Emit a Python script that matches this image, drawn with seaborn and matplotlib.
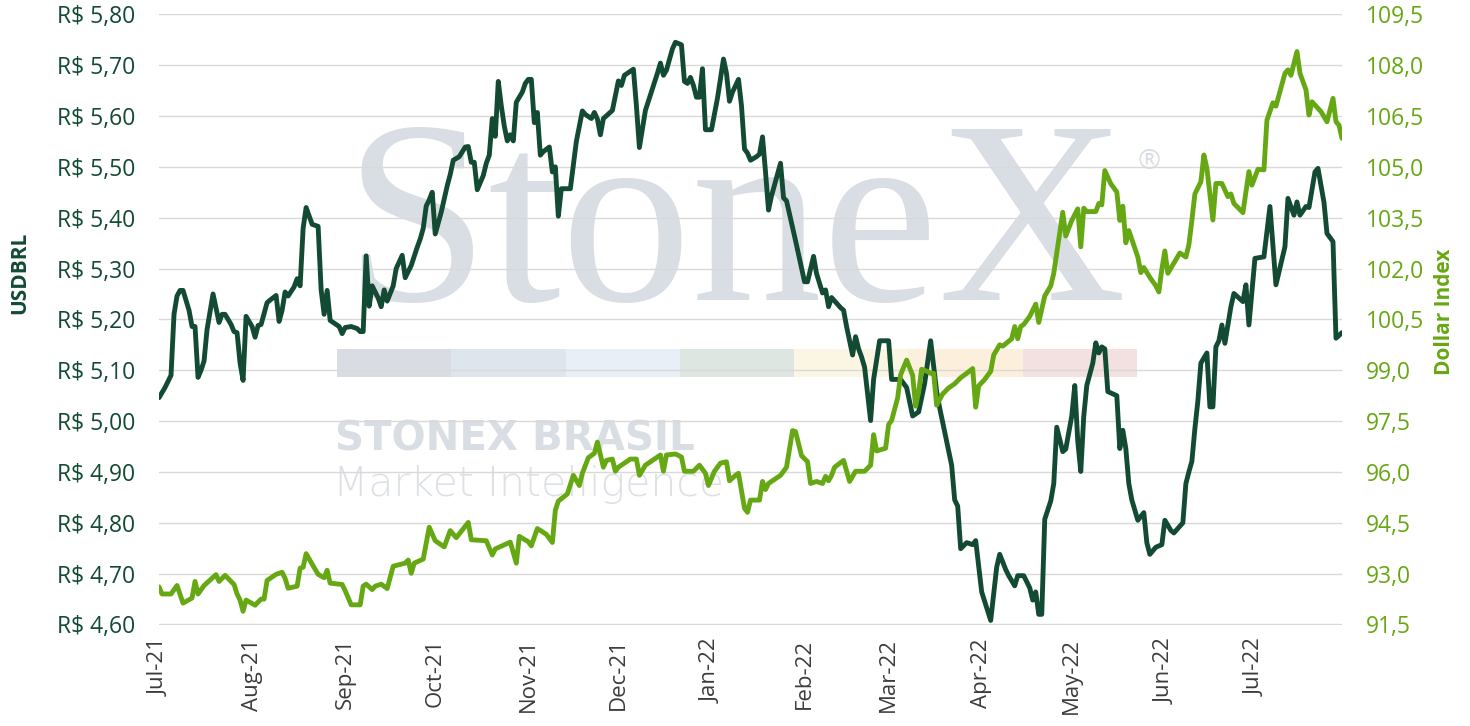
import pandas as pd
import matplotlib
matplotlib.use("Agg")
import matplotlib.pyplot as plt
import matplotlib.dates as mdates
from matplotlib.ticker import FuncFormatter, MultipleLocator
from matplotlib.patches import Rectangle
import seaborn as sns

# day offsets from 2021-07-01 and closing values
start = "2021-07-01"

usd_days = [0, 2, 4, 5, 6, 7, 8, 10, 11, 12,
            13, 14, 15, 16, 18, 20, 21, 22, 24, 25,
            26, 27, 28, 29, 31, 32, 33, 34, 36, 37,
            39, 40, 41, 42, 43, 45, 46, 47, 48, 49,
            51, 53, 54, 55, 56, 57, 58, 60, 61, 62,
            64, 66, 67, 68, 69, 70, 71, 73, 74, 75,
            76, 78, 79, 81, 82, 84, 86, 87, 88, 89,
            90, 91, 92, 94, 96, 97, 98, 100, 102, 103,
            104, 105, 106, 108, 109, 110, 111, 112, 113, 114,
            115, 116, 117, 118, 119, 121, 122, 123, 124, 125,
            126, 127, 128, 130, 131, 132, 133, 134, 137, 138,
            139, 141, 142, 144, 145, 146, 147, 148, 151, 153,
            154, 155, 158, 159, 160, 162, 166, 167, 168, 169,
            171, 172, 174, 175, 176, 177, 178, 179, 180, 181,
            182, 184, 186, 188, 189, 190, 191, 193, 194, 195,
            196, 197, 199, 200, 201, 202, 203, 204, 207, 208,
            209, 212, 215, 216, 218, 219, 221, 222, 223, 224,
            227, 228, 229, 231, 232, 233, 234, 235, 237, 238,
            240, 243, 244, 247, 249, 251, 253, 255, 257, 259,
            260, 262, 264, 265, 266, 267, 269, 271, 272, 274,
            277, 279, 280, 282, 283, 285, 286, 288, 290, 291,
            292, 293, 294, 295, 297, 298, 299, 301, 302, 304,
            305, 306, 307, 308, 309, 311, 312, 313, 314, 315,
            316, 319, 320, 321, 322, 323, 324, 326, 328, 329,
            330, 332, 334, 335, 337, 338, 341, 342, 343, 344,
            345, 346, 347, 349, 350, 351, 352, 353, 354, 355,
            357, 358, 361, 362, 363, 365, 368, 370, 372, 375,
            376, 378, 379, 380, 382, 383, 385, 386, 388, 389,
            391, 392, 394]
usd_vals = [5.046, 5.066, 5.09, 5.21, 5.246, 5.257, 5.257, 5.218, 5.186, 5.186,
            5.086, 5.10, 5.118, 5.18, 5.25, 5.194, 5.21, 5.21, 5.19, 5.176,
            5.174, 5.114, 5.08, 5.206, 5.186, 5.165, 5.188, 5.19, 5.233, 5.238,
            5.247, 5.196, 5.218, 5.254, 5.246, 5.264, 5.28, 5.266, 5.379, 5.42,
            5.387, 5.383, 5.258, 5.21, 5.257, 5.198, 5.194, 5.186, 5.172, 5.184,
            5.186, 5.182, 5.176, 5.176, 5.325, 5.226, 5.266, 5.242, 5.225, 5.258,
            5.236, 5.266, 5.30, 5.326, 5.282, 5.306, 5.342, 5.358, 5.379, 5.423,
            5.435, 5.45, 5.368, 5.411, 5.463, 5.485, 5.513, 5.52, 5.539, 5.54,
            5.509, 5.509, 5.455, 5.483, 5.507, 5.523, 5.595, 5.56, 5.668, 5.62,
            5.58, 5.551, 5.563, 5.551, 5.627, 5.647, 5.664, 5.672, 5.672, 5.587,
            5.607, 5.523, 5.53, 5.539, 5.49, 5.50, 5.403, 5.457, 5.457, 5.503,
            5.55, 5.61, 5.603, 5.595, 5.607, 5.594, 5.563, 5.595, 5.611, 5.669,
            5.66, 5.68, 5.692, 5.62, 5.538, 5.611, 5.684, 5.704, 5.68, 5.69,
            5.732, 5.745, 5.74, 5.668, 5.664, 5.676, 5.66, 5.637, 5.637, 5.693,
            5.573, 5.573, 5.635, 5.712, 5.684, 5.629, 5.647, 5.672, 5.62, 5.535,
            5.527, 5.513, 5.52, 5.525, 5.559, 5.49, 5.415, 5.443, 5.507, 5.439,
            5.433, 5.355, 5.274, 5.274, 5.324, 5.29, 5.252, 5.258, 5.225, 5.243,
            5.223, 5.218, 5.186, 5.13, 5.166, 5.142, 5.126, 5.106, 5.001, 5.082,
            5.158, 5.158, 5.082, 5.082, 5.066, 5.01, 5.018, 5.074, 5.158, 5.058,
            5.026, 4.97, 4.913, 4.845, 4.833, 4.749, 4.761, 4.757, 4.765, 4.664,
            4.608, 4.713, 4.738, 4.708, 4.696, 4.676, 4.696, 4.696, 4.672, 4.648,
            4.664, 4.62, 4.62, 4.807, 4.843, 4.877, 4.988, 4.94, 4.945, 5.01,
            5.07, 4.96, 4.901, 5.01, 5.07, 5.114, 5.154, 5.134, 5.146, 5.142,
            5.058, 5.05, 4.946, 4.982, 4.946, 4.877, 4.845, 4.805, 4.82, 4.761,
            4.738, 4.752, 4.757, 4.805, 4.785, 4.78, 4.80, 4.877, 4.90, 4.921,
            4.985, 5.04, 5.114, 5.134, 5.028, 5.028, 5.146, 5.158, 5.189, 5.153,
            5.225, 5.251, 5.235, 5.268, 5.189, 5.32, 5.323, 5.422, 5.268, 5.343,
            5.438, 5.405, 5.431, 5.405, 5.422, 5.42, 5.49, 5.497, 5.43, 5.369,
            5.353, 5.163, 5.174]

dxy_days = [0, 1, 4, 6, 8, 11, 12, 13, 15, 19,
            20, 22, 25, 26, 27, 28, 29, 32, 34, 35,
            36, 39, 41, 42, 43, 46, 47, 48, 49, 51,
            53, 55, 56, 57, 61, 62, 64, 67, 68, 69,
            71, 72, 74, 76, 78, 82, 83, 84, 85, 88,
            90, 92, 95, 97, 99, 103, 104, 109, 111, 112,
            117, 119, 120, 123, 124, 126, 129, 131, 132, 133,
            136, 138, 140, 141, 143, 145, 146, 148, 149, 151,
            152, 153, 155, 157, 159, 160, 162, 163, 166, 167,
            168, 169, 172, 174, 175, 178, 180, 182, 183, 185,
            187, 189, 190, 192, 193, 195, 196, 197, 200, 201,
            202, 203, 207, 209, 211, 212, 214, 216, 217, 219,
            221, 222, 223, 224, 225, 228, 230, 232, 235, 237,
            238, 239, 242, 243, 244, 246, 247, 249, 251, 252,
            253, 254, 256, 257, 258, 259, 261, 263, 265, 267,
            269, 271, 272, 273, 275, 277, 278, 280, 281, 284,
            285, 286, 287, 288, 290, 292, 293, 295, 297, 298,
            299, 301, 302, 304, 306, 307, 308, 309, 312, 313,
            314, 315, 317, 319, 320, 321, 322, 323, 326, 327,
            328, 330, 332, 333, 334, 335, 336, 338, 340, 342,
            343, 344, 345, 347, 348, 349, 351, 352, 354, 356,
            357, 358, 361, 363, 364, 366, 368, 369, 371, 372,
            375, 376, 377, 379, 380, 382, 383, 384, 387, 389,
            391, 392, 393, 394]
dxy_vals = [92.61, 92.40, 92.40, 92.65, 92.13, 92.28, 92.77, 92.40, 92.65, 92.97,
            92.77, 92.95, 92.68, 92.40, 92.22, 91.89, 92.22, 92.07, 92.25, 92.25,
            92.80, 92.98, 93.04, 92.86, 92.57, 92.63, 93.16, 93.19, 93.59, 93.28,
            92.98, 92.88, 93.10, 92.72, 92.68, 92.50, 92.08, 92.08, 92.63, 92.69,
            92.53, 92.63, 92.69, 92.56, 93.22, 93.31, 93.40, 93.01, 93.31, 93.43,
            94.37, 93.97, 93.79, 94.27, 94.06, 94.51, 94.00, 93.97, 93.55, 93.73,
            93.93, 93.31, 94.10, 93.94, 93.82, 94.33, 94.16, 93.92, 94.87, 95.14,
            95.35, 95.90, 95.60, 95.96, 96.42, 96.55, 96.88, 96.14, 96.34, 96.38,
            96.02, 96.14, 96.26, 96.38, 96.38, 95.90, 96.20, 96.26, 96.44, 96.50,
            96.02, 96.50, 96.53, 96.44, 96.02, 96.02, 96.20, 95.96, 95.60, 96.02,
            96.26, 96.30, 95.74, 95.90, 95.96, 94.93, 94.81, 95.17, 95.17, 95.72,
            95.48, 95.66, 95.90, 96.14, 97.22, 97.19, 96.48, 96.30, 95.66, 95.72,
            95.66, 95.87, 95.74, 95.90, 96.14, 96.34, 95.72, 96.02, 96.02, 96.20,
            97.10, 96.62, 96.70, 97.40, 97.52, 98.18, 98.87, 99.30, 98.85, 97.94,
            98.36, 99.03, 98.96, 98.91, 98.91, 97.97, 98.30, 98.48, 98.60, 98.78,
            98.91, 99.05, 97.91, 98.54, 98.73, 98.97, 99.45, 99.75, 99.71, 99.93,
            100.29, 99.93, 100.29, 100.35, 100.59, 100.95, 100.41, 101.19, 101.49, 101.86,
            102.46, 103.66, 102.96, 103.42, 103.76, 102.64, 103.78, 103.68, 103.68, 103.92,
            103.88, 104.89, 104.50, 104.26, 103.42, 103.84, 102.76, 103.12, 102.34, 101.88,
            102.03, 101.74, 101.49, 101.31, 101.98, 102.52, 101.86, 102.16, 102.46, 102.34,
            102.70, 103.42, 104.20, 104.56, 105.35, 104.96, 103.43, 104.51, 104.51, 104.12,
            104.20, 103.92, 103.65, 104.86, 104.46, 104.93, 104.91, 106.38, 106.89, 106.79,
            107.76, 107.86, 107.70, 108.40, 107.76, 107.27, 106.53, 106.92, 106.63, 106.33,
            107.02, 106.33, 106.23, 105.84]

DARK = "#124a33"
LIGHT = "#66a813"
band_colors = ["#d9dde3", "#dfe5ed", "#e8eff7", "#dde6e0", "#fbf6e4", "#fcefdc", "#f3e0e0"]
mark = "#d9dee4"

sns.set_style("white")
plt.rcParams["font.family"] = ["Open Sans", "DejaVu Sans"]

base = pd.Timestamp(start)
usd = pd.DataFrame({"date": base + pd.to_timedelta(usd_days, unit="D"), "USDBRL": usd_vals})
dxy = pd.DataFrame({"date": base + pd.to_timedelta(dxy_days, unit="D"), "DXY": dxy_vals})

W, H = 1470, 726
fig = plt.figure(figsize=(W / 100, H / 100), dpi=100)
ax = fig.add_axes([159 / W, 1 - 624.5 / H, (1342 - 159) / W, (624.5 - 14.3) / H])
ax2 = ax.twinx()

# watermark (logo drawn as text + coloured band)
ax.text(735 / W, 1 - 300 / H, "StoneX", transform=fig.transFigure, ha="center", va="baseline",
        fontsize=188, family="Liberation Serif", color=mark, zorder=0.2)
ax.text(1149 / W, 1 - 162 / H, "®", transform=fig.transFigure, ha="center", va="center",
        fontsize=20, color=mark, zorder=0.2)
seg = (1137 - 337) / len(band_colors)
for i, c in enumerate(band_colors):
    ax.add_patch(Rectangle(((337 + i * seg) / W, 1 - 377 / H), seg / W, 28 / H,
                           transform=fig.transFigure, facecolor=c, edgecolor="none",
                           zorder=0.2, clip_on=False))
ax.text(335 / W, 1 - 450 / H, "STONEX BRASIL", transform=fig.transFigure, ha="left", va="baseline",
        fontsize=29, fontweight="bold", family="DejaVu Sans", color=mark, zorder=0.2)
ax.text(333 / W, 1 - 496 / H, "Market Intelligence", transform=fig.transFigure, ha="left",
        va="baseline", fontsize=29.5, fontweight="light", family="DejaVu Sans", color="#dde1e6",
        zorder=0.2)

sns.lineplot(data=usd, x="date", y="USDBRL", ax=ax, color=DARK, linewidth=3.5, zorder=3)
sns.lineplot(data=dxy, x="date", y="DXY", ax=ax2, color=LIGHT, linewidth=3.5, zorder=3)

ax.set_xlim(usd["date"].min(), usd["date"].max())
ax.set_ylim(4.6, 5.8)
ax2.set_ylim(91.5, 109.5)
ax.yaxis.set_major_locator(MultipleLocator(0.1))
ax2.yaxis.set_major_locator(MultipleLocator(1.5))
ax.yaxis.set_major_formatter(FuncFormatter(lambda v, p: f"R$ {v:.2f}".replace(".", ",")))
ax2.yaxis.set_major_formatter(FuncFormatter(lambda v, p: f"{v:.1f}".replace(".", ",")))
ax.xaxis.set_major_locator(mdates.MonthLocator())
ax.xaxis.set_major_formatter(mdates.DateFormatter("%b-%y"))

ax.grid(axis="y", color="#d9d9d9", linewidth=1)
ax.grid(axis="x", visible=False)
ax.set_axisbelow(True)
ax2.grid(False)
for a in (ax, ax2):
    for s in a.spines.values():
        s.set_visible(False)
    a.set_xlabel("")
    a.set_ylabel("")

ax.tick_params(axis="y", length=0, labelsize=16.5, labelcolor=DARK, pad=17)
ax2.tick_params(axis="y", length=0, labelsize=16.5, labelcolor=LIGHT, pad=17)
ax.tick_params(axis="x", length=0, labelsize=16, labelcolor="#3c3c3c", pad=10, labelrotation=90)

fig.text(20 / W, 1 - 273 / H, "USDBRL", rotation=90, ha="center", va="center",
         fontsize=15, fontweight="bold", color=DARK)
fig.text(1445 / W, 1 - 312 / H, "Dollar Index", rotation=90, ha="center", va="center",
         fontsize=15, fontweight="bold", color=LIGHT)

fig.savefig("out.png", dpi=100)
